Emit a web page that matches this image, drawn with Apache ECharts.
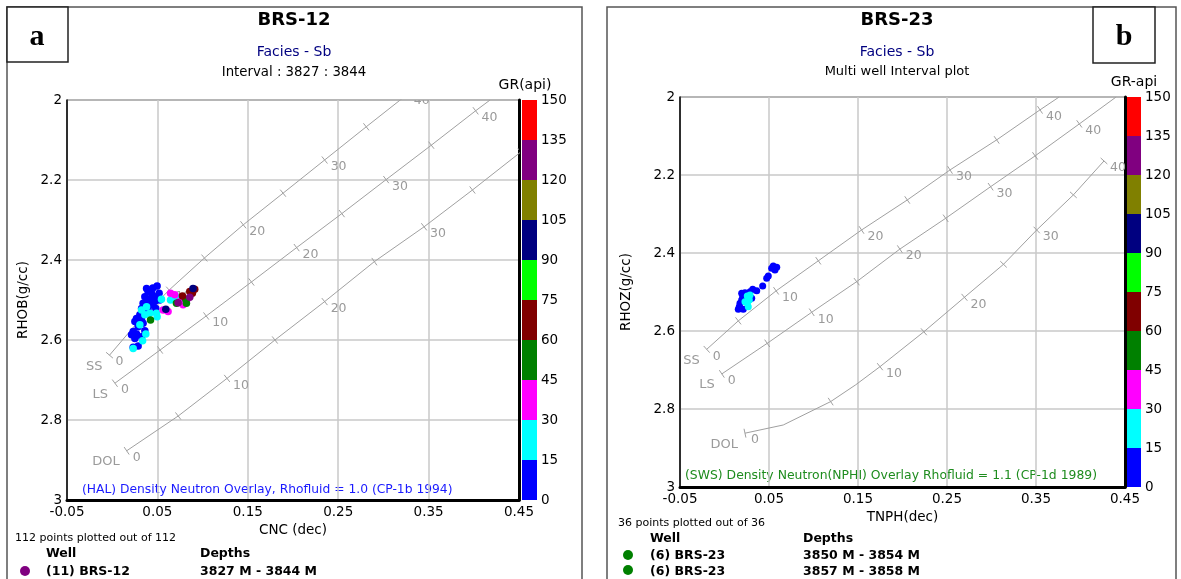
<!DOCTYPE html>
<html><head><meta charset="utf-8">
<script src="https://cdn.jsdelivr.net/npm/echarts@6/dist/echarts.min.js"></script>
<style>html,body{margin:0;padding:0;background:#fff}#c{width:1181px;height:579px}</style>
</head><body><div id="c"></div>
<script>
// ---------- axis / colour scale ----------
const xTicks = [-0.05, 0.05, 0.15, 0.25, 0.35, 0.45];
const grCuts = [0, 15, 30, 45, 60, 75, 90, 105, 120, 135, 150];
const grColors = ['#0000ff','#00ffff','#ff00ff','#008000','#800000','#00ff00','#000080','#808000','#800080','#ff0000'];

// ---------- panel a : BRS-12 points (CNC, RHOB, GR) ----------
const aNeu = [0.0497,0.038,0.0397,0.0435,0.0519,0.0471,0.0361,0.0526,0.0397,0.0471,0.0342,0.0435,0.038,0.0325,0.0482,0.0397,0.0342,0.0306,0.0269,0.0325,0.0251,0.0342,0.0287,0.0232,0.0269,0.0361,0.0214,0.0325,0.0251,0.0287,0.0232,0.045,0.042,0.030,
  0.0545,0.0645,0.038,0.0325,0.049,0.0416,0.0361,0.0497,0.0306,0.0372,0.0336,0.0232,0.0711,0.0747,
  0.0645,0.0692,0.0618,0.0563,0.0784,0.0821,0.0747,
  0.0424,0.0711,0.0813,0.0821,
  0.0777,0.0858,0.0913,0.0887,
  0.0593,0.0894,
  0.0858,0.0729];
const aDen = [2.465,2.471,2.479,2.483,2.483,2.492,2.492,2.500,2.502,2.504,2.508,2.512,2.515,2.521,2.521,2.525,2.529,2.537,2.546,2.550,2.554,2.558,2.567,2.579,2.585,2.577,2.587,2.592,2.596,2.615,2.618,2.470,2.497,2.560,
  2.498,2.500,2.517,2.525,2.533,2.533,2.537,2.542,2.562,2.585,2.602,2.621,2.493,2.498,
  2.483,2.487,2.529,2.525,2.512,2.504,2.504,
  2.550,2.508,2.498,2.508,
  2.490,2.479,2.473,2.483,
  2.523,2.471,
  2.493,2.507];
const aGR = [8,8,8,8,8,8,8,8,8,8,8,8,8,8,8,8,8,8,8,8,8,8,8,8,8,8,8,8,8,8,8,8,8,8,
  22,22,22,22,22,22,22,22,22,22,22,22,22,22,
  38,38,38,38,38,38,38,
  52,52,52,52,
  68,68,68,68,
  97,97,
  128,128];

// ---------- panel b : BRS-23 points (TNPH, RHOZ, GR) ----------
const bNeu = [0.0548,0.0587,0.0567,0.053,0.0492,0.0474,0.0429,0.0362,0.0317,0.0287,0.023,0.0204,0.0193,0.0174,0.0166,0.0155,0.0211,0.0306,0.0193,
  0.0256,0.0279,0.0256,0.0267,0.023,0.0287];
const bDen = [2.4333,2.4367,2.4436,2.4392,2.459,2.4649,2.4846,2.4967,2.4931,2.4992,2.5018,2.512,2.5205,2.529,2.5377,2.5444,2.5444,2.5162,2.5033,
  2.5103,2.5205,2.529,2.5377,2.5249,2.5077];
const bGR = [8,8,8,8,8,8,8,8,8,8,8,8,8,8,8,8,8,8,8,
  22,22,22,22,22,22];

// ---------- lithology overlay lines (neutron, density, porosity tick) ----------
// panel a (HAL CP-1b, rhofluid 1.0)
const aSSn = [-0.003,0.028,0.063,0.102,0.145,0.189,0.235,0.281,0.327];
const aSSd = [2.638,2.556,2.475,2.395,2.312,2.233,2.150,2.067,1.985];
const aSSp = [0,5,10,15,20,25,30,35,40];
const aLSn = [0.003,0.053,0.104,0.154,0.204,0.254,0.303,0.353,0.402,0.418];
const aLSd = [2.708,2.625,2.540,2.455,2.369,2.284,2.199,2.113,2.027,2.0];
const aLSp = [0,5,10,15,20,25,30,35,40,null];
const aDOLn = [0.016,0.073,0.127,0.180,0.235,0.290,0.345,0.3985,0.452];
const aDOLd = [2.877,2.790,2.696,2.600,2.504,2.404,2.317,2.225,2.130];
const aDOLp = [0,5,10,15,20,25,30,35,40];
// panel b (SWS CP-1d, rhofluid 1.1)
const bSSn = [-0.020,0.0155,0.058,0.1054,0.154,0.2054,0.2534,0.3058,0.3545,0.376];
const bSSd = [2.647,2.574,2.497,2.420,2.341,2.264,2.187,2.110,2.033,2.0];
const bSSp = [0,5,10,15,20,25,30,35,40,null];
const bLSn = [-0.003,0.048,0.098,0.1485,0.197,0.2485,0.299,0.349,0.3987,0.44];
const bLSd = [2.710,2.6316,2.552,2.4735,2.390,2.311,2.230,2.151,2.069,2.0];
const bLSp = [0,5,10,15,20,25,30,35,40,null];
const bDOLn = [0.023,0.066,0.1193,0.1474,0.1747,0.224,0.2696,0.3135,0.3508,0.392,0.4264];
const bDOLd = [2.862,2.841,2.781,2.738,2.6915,2.602,2.5136,2.429,2.341,2.251,2.164];
const bDOLp = [0,null,5,null,10,15,20,25,30,35,40];

const FONT = 'DejaVu Sans';
const GRAY = '#a0a0a0';

function pairs(n, d) { return n.map((v, i) => [v, d[i]]); }
function grColor(v) { return grColors[Math.min(grColors.length - 1, Math.floor(v / 15))]; }

function tickRender(name, n, d, p) {
  return function (params, api) {
    const i = params.dataIndex;
    if (p[i] === null) return { type: 'group', children: [] };
    const pt = api.coord([n[i], d[i]]);
    const j = i < n.length - 1 ? i + 1 : i - 1;
    const q = api.coord([n[j], d[j]]);
    let dx = q[0] - pt[0], dy = q[1] - pt[1];
    if (j < i) { dx = -dx; dy = -dy; }
    const L = Math.hypot(dx, dy) || 1; dx /= L; dy /= L;
    const px = -dy, py = dx, h = 4.5;
    const ch = [{ type: 'line', shape: { x1: pt[0] - px * h, y1: pt[1] - py * h, x2: pt[0] + px * h, y2: pt[1] + py * h },
      style: { stroke: GRAY, lineWidth: 1 } }];
    if (p[i] % 10 === 0) ch.push({ type: 'text', x: pt[0] + 6, y: pt[1] + 7,
      style: { text: String(p[i]), fill: '#9a9a9a', font: '12.5px ' + FONT, align: 'left', verticalAlign: 'middle' } });
    if (p[i] === 0) ch.push({ type: 'text', x: pt[0] - 7, y: pt[1] + 11,
      style: { text: name, fill: '#9a9a9a', font: '13px ' + FONT, align: 'right', verticalAlign: 'middle' } });
    return { type: 'group', children: ch };
  };
}

const series = [];
function addCurve(gi, name, n, d, p) {
  series.push({ type: 'line', xAxisIndex: gi, yAxisIndex: gi, data: pairs(n, d), showSymbol: false, silent: true,
    lineStyle: { color: GRAY, width: 1 }, clip: true, z: 2 });
  series.push({ type: 'custom', xAxisIndex: gi, yAxisIndex: gi, data: pairs(n, d), clip: true, silent: true, z: 3,
    renderItem: tickRender(name, n, d, p) });
}
addCurve(0, 'SS', aSSn, aSSd, aSSp);
addCurve(0, 'LS', aLSn, aLSd, aLSp);
addCurve(0, 'DOL', aDOLn, aDOLd, aDOLp);
addCurve(1, 'SS', bSSn, bSSd, bSSp);
addCurve(1, 'LS', bLSn, bLSd, bLSp);
addCurve(1, 'DOL', bDOLn, bDOLd, bDOLp);

series.push({ type: 'scatter', xAxisIndex: 0, yAxisIndex: 0, symbolSize: 7.5, z: 5,
  data: aNeu.map((v, i) => [v, aDen[i], aGR[i]]), itemStyle: { color: p => grColor(p.value[2]), opacity: 1 } });
series.push({ type: 'scatter', xAxisIndex: 1, yAxisIndex: 1, symbolSize: 7, z: 5,
  data: bNeu.map((v, i) => [v, bDen[i], bGR[i]]), itemStyle: { color: p => grColor(p.value[2]), opacity: 1 } });

// colour bars (stacked segments)
[2, 3].forEach(ax => {
  grColors.forEach((c, k) => {
    series.push({ type: 'bar', xAxisIndex: ax, yAxisIndex: ax, stack: 'gr' + ax, barWidth: '100%', silent: true,
      data: [grCuts[k + 1] - grCuts[k]], itemStyle: { color: c } });
  });
});

function mainX(gi, name, gap) {
  return { gridIndex: gi, type: 'value', min: -0.05, max: 0.45,
    axisLine: { show: true, onZero: false, lineStyle: { color: '#000', width: 3 } },
    axisTick: { show: false, customValues: xTicks },
    axisLabel: { customValues: xTicks, formatter: v => v.toFixed(2), color: '#000', fontSize: 13.5, fontFamily: FONT, margin: 5 },
    splitLine: { show: true, lineStyle: { color: '#c8c8c8', width: 1.5 } },
    name: name, nameLocation: 'middle', nameGap: gap, nameTextStyle: { color: '#000', fontSize: 13.5, fontFamily: FONT } };
}
function mainY(gi, name, gap) {
  return { gridIndex: gi, type: 'value', min: 2, max: 3, interval: 0.2, inverse: true,
    axisLine: { show: true, onZero: false, lineStyle: { color: '#000', width: 1.5 } },
    axisTick: { show: false },
    axisLabel: { color: '#000', fontSize: 13.5, fontFamily: FONT, margin: 5 },
    splitLine: { show: true, lineStyle: { color: '#c8c8c8', width: 1.5 } },
    name: name, nameLocation: 'middle', nameGap: gap, nameTextStyle: { color: '#000', fontSize: 13.5, fontFamily: FONT } };
}
function barY(gi) {
  return { gridIndex: gi, type: 'value', min: 0, max: 150, interval: 15, position: 'right',
    axisLine: { show: false }, axisTick: { show: false }, splitLine: { show: false },
    axisLabel: { color: '#000', fontSize: 13.5, fontFamily: FONT, margin: 4 } };
}
function borderY(gi) {
  return { gridIndex: gi, type: 'value', min: 2, max: 3, position: 'right',
    axisLine: { show: true, onZero: false, lineStyle: { color: '#000', width: 3 } }, axisTick: { show: false },
    axisLabel: { show: false }, splitLine: { show: false } };
}

function txt(x, y, text, font, fill, align) {
  return { type: 'text', x: x, y: y, silent: true,
    style: { text: text, font: font, fill: fill || '#000', align: align || 'left', verticalAlign: 'middle' } };
}

const graphics = [
  { type: 'rect', shape: { x: 7, y: 7, width: 575, height: 620 }, style: { fill: 'none', stroke: '#555', lineWidth: 1.5 }, silent: true },
  { type: 'rect', shape: { x: 607, y: 7, width: 569, height: 620 }, style: { fill: 'none', stroke: '#555', lineWidth: 1.5 }, silent: true },
  { type: 'rect', shape: { x: 7, y: 7, width: 61, height: 55 }, style: { fill: '#fff', stroke: '#222', lineWidth: 1.5 }, silent: true },
  { type: 'rect', shape: { x: 1093, y: 7, width: 62, height: 56 }, style: { fill: '#fff', stroke: '#222', lineWidth: 1.5 }, silent: true },
  txt(37, 37, 'a', 'bold 30px "Liberation Serif"', '#000', 'center'),
  txt(1124, 37, 'b', 'bold 30px "Liberation Serif"', '#000', 'center'),
  // panel a titles
  txt(294, 20, 'BRS-12', 'bold 18px ' + FONT, '#000', 'center'),
  txt(294, 52, 'Facies - Sb', '14px ' + FONT, '#000080', 'center'),
  txt(294, 73, 'Interval : 3827 : 3844', '13.3px ' + FONT, '#000', 'center'),
  txt(525, 85, 'GR(api)', '14px ' + FONT, '#000', 'center'),
  txt(82, 490, '(HAL) Density Neutron Overlay, Rhofluid = 1.0 (CP-1b 1994)', '12.3px ' + FONT, '#1a1aff', 'left'),
  txt(15, 538, '112 points plotted out of 112', '11px ' + FONT, '#000', 'left'),
  txt(46, 554, 'Well', 'bold 12.5px ' + FONT, '#000', 'left'),
  txt(200, 554, 'Depths', 'bold 12.5px ' + FONT, '#000', 'left'),
  { type: 'circle', shape: { cx: 25, cy: 571, r: 5 }, style: { fill: '#800080' }, silent: true },
  txt(46, 572, '(11) BRS-12', 'bold 12.5px ' + FONT, '#000', 'left'),
  txt(200, 572, '3827 M - 3844 M', 'bold 12.5px ' + FONT, '#000', 'left'),
  // panel b titles
  txt(897, 20, 'BRS-23', 'bold 18px ' + FONT, '#000', 'center'),
  txt(897, 52, 'Facies - Sb', '14px ' + FONT, '#000080', 'center'),
  txt(897, 72, 'Multi well Interval plot', '13px ' + FONT, '#000', 'center'),
  txt(1134, 82, 'GR-api', '14px ' + FONT, '#000', 'center'),
  txt(685, 476, '(SWS) Density Neutron(NPHI) Overlay Rhofluid = 1.1 (CP-1d 1989)', '12.4px ' + FONT, '#1e8c1e', 'left'),
  txt(618, 523, '36 points plotted out of 36', '11px ' + FONT, '#000', 'left'),
  txt(650, 539, 'Well', 'bold 12.5px ' + FONT, '#000', 'left'),
  txt(803, 539, 'Depths', 'bold 12.5px ' + FONT, '#000', 'left'),
  { type: 'circle', shape: { cx: 628, cy: 555, r: 5 }, style: { fill: '#008000' }, silent: true },
  txt(650, 556, '(6) BRS-23', 'bold 12.5px ' + FONT, '#000', 'left'),
  txt(803, 556, '3850 M - 3854 M', 'bold 12.5px ' + FONT, '#000', 'left'),
  { type: 'circle', shape: { cx: 628, cy: 570, r: 5 }, style: { fill: '#008000' }, silent: true },
  txt(650, 572, '(6) BRS-23', 'bold 12.5px ' + FONT, '#000', 'left'),
  txt(803, 572, '3857 M - 3858 M', 'bold 12.5px ' + FONT, '#000', 'left')
];

const option = {
  animation: false,
  backgroundColor: '#fff',
  textStyle: { fontFamily: FONT },
  grid: [
    { left: 67, top: 100, width: 452, height: 400, show: true, borderColor: '#000', borderWidth: 1, backgroundColor: '#fff' },
    { left: 680, top: 97, width: 445, height: 390, show: true, borderColor: '#000', borderWidth: 1, backgroundColor: '#fff' },
    { left: 522, top: 100, width: 15, height: 400 },
    { left: 1127, top: 97, width: 14, height: 390 }
  ],
  xAxis: [
    mainX(0, 'CNC (dec)', 23), mainX(1, 'TNPH(dec)', 23),
    { gridIndex: 2, type: 'category', data: ['GR'], show: false },
    { gridIndex: 3, type: 'category', data: ['GR'], show: false }
  ],
  yAxis: [mainY(0, 'RHOB(g/cc)', 37), mainY(1, 'RHOZ(g/cc)', 47), barY(2), barY(3), borderY(0), borderY(1)],
  series: series,
  graphic: { elements: graphics }
};

const chart = echarts.init(document.getElementById('c'), null, { renderer: 'canvas' });
chart.setOption(option);
</script>
</body></html>
